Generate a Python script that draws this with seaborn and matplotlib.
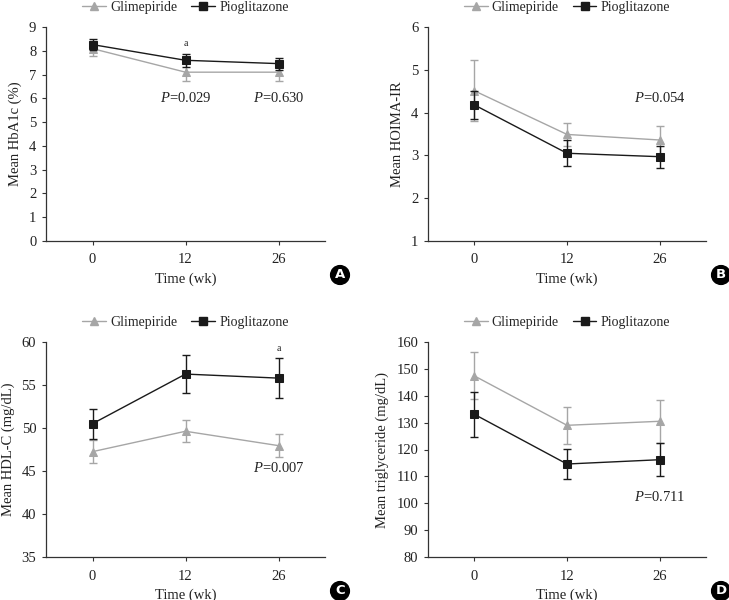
import numpy as np
import pandas as pd
import seaborn as sns
import matplotlib.pyplot as plt
from matplotlib.lines import Line2D

sns.set_theme(style="ticks")
plt.rcParams['font.family'] = ['Liberation Serif', 'DejaVu Serif']
plt.rcParams['mathtext.fontset'] = 'custom'
plt.rcParams['mathtext.rm'] = 'Liberation Serif'
plt.rcParams['mathtext.it'] = 'Liberation Serif:italic'

weeks = ['0', '12', '26']
groups = ['Glimepiride', 'Pioglitazone']

hba1c_glim = [8.09, 7.10, 7.10]
hba1c_glim_err = [0.32, 0.37, 0.35]
hba1c_pio = [8.26, 7.60, 7.46]
hba1c_pio_err = [0.24, 0.28, 0.25]

homa_glim = [4.51, 3.49, 3.36]
homa_glim_err = [0.71, 0.27, 0.32]
homa_pio = [4.18, 3.05, 2.97]
homa_pio_err = [0.33, 0.30, 0.26]

hdl_glim = [47.25, 49.62, 47.95]
hdl_glim_err = [1.30, 1.30, 1.35]
hdl_pio = [50.5, 56.27, 55.8]
hdl_pio_err = [1.75, 2.20, 2.30]

tg_glim = [147.4, 129.0, 130.5]
tg_glim_err = [8.7, 6.9, 7.9]
tg_pio = [133.1, 114.6, 116.2]
tg_pio_err = [8.4, 5.7, 6.2]

GRAY = '#a6a6a6'
BLACK = '#1a1a1a'
palette = {'Glimepiride': GRAY, 'Pioglitazone': BLACK}

fig = plt.figure(figsize=(7.29, 6.0), dpi=100)
W, H = 729, 600

def add_axes(left, top, right, bottom):
    return fig.add_axes([left / W, 1 - bottom / H, (right - left) / W, (bottom - top) / H])

panels = [
    dict(box=(46, 27, 325, 241), glim=hba1c_glim, ge=hba1c_glim_err, pio=hba1c_pio, pe=hba1c_pio_err,
         ylabel='Mean HbA1c (%)', ylim=(0, 9), yticks=np.arange(0, 10, 1), letter='A',
         ptexts=[(1, 6.03, '=0.029'), (2, 6.03, '=0.630')], atexts=[(1, 8.3)]),
    dict(box=(428, 27, 706, 241), glim=homa_glim, ge=homa_glim_err, pio=homa_pio, pe=homa_pio_err,
         ylabel='Mean HOIMA-IR', ylim=(1, 6), yticks=np.arange(1, 7, 1), letter='B',
         ptexts=[(2, 4.35, '=0.054')], atexts=[]),
    dict(box=(46, 342, 325, 557), glim=hdl_glim, ge=hdl_glim_err, pio=hdl_pio, pe=hdl_pio_err,
         ylabel='Mean HDL-C (mg/dL)', ylim=(35, 60), yticks=np.arange(35, 61, 5), letter='C',
         ptexts=[(2, 45.3, '=0.007')], atexts=[(2, 59.3)]),
    dict(box=(428, 342, 706, 557), glim=tg_glim, ge=tg_glim_err, pio=tg_pio, pe=tg_pio_err,
         ylabel='Mean triglyceride (mg/dL)', ylim=(80, 160), yticks=np.arange(80, 161, 10), letter='D',
         ptexts=[(2, 102.2, '=0.711')], atexts=[]),
]

for p in panels:
    ax = add_axes(*p['box'])
    df = pd.DataFrame({
        'week': weeks * 2,
        'value': list(p['glim']) + list(p['pio']),
        'group': ['Glimepiride'] * 3 + ['Pioglitazone'] * 3,
    })
    sns.pointplot(data=df, x='week', y='value', hue='group', order=weeks, hue_order=groups,
                  palette=palette, markers=['^', 's'], linestyles=['-', '-'], errorbar=None,
                  markersize=6, linewidth=1.0, ax=ax, legend=False)
    ax.errorbar(np.arange(3), p['glim'], yerr=p['ge'], fmt='none', ecolor=GRAY,
                elinewidth=1.0, capsize=3, capthick=1.0, zorder=1)
    ax.errorbar(np.arange(3), p['pio'], yerr=p['pe'], fmt='none', ecolor=BLACK,
                elinewidth=1.0, capsize=3, capthick=1.0, zorder=3)
    ax.set_xlim(-0.5, 2.5)
    ax.set_ylim(*p['ylim'])
    ax.set_yticks(p['yticks'])
    ax.set_yticklabels([str(int(t)) for t in p['yticks']])
    sns.despine(ax=ax)
    for s in ['left', 'bottom']:
        ax.spines[s].set_color('#333333')
        ax.spines[s].set_linewidth(0.9)
    ax.tick_params(axis='both', labelsize=10.5, colors='#333333', labelcolor='#222222',
                   length=3, width=0.8)
    ax.tick_params(axis='y', pad=4)
    ax.tick_params(axis='x', pad=6)
    ax.set_xlabel('Time (wk)', fontsize=10.5, color='#222222', labelpad=4)
    ax.set_ylabel(p['ylabel'], fontsize=10.5, color='#222222', labelpad=5)
    for (xi, yi, rest) in p['ptexts']:
        ax.text(xi, yi, r'$P$' + rest, ha='center', va='center', fontsize=10.5, color='#222222')
    for (xi, yi) in p['atexts']:
        ax.text(xi, yi, 'a', ha='center', va='center', fontsize=7, color='#222222')
    handles = [Line2D([], [], color=GRAY, marker='^', markersize=6, lw=1.0),
               Line2D([], [], color=BLACK, marker='s', markersize=6, lw=1.0)]
    ax.legend(handles, groups, loc='center', bbox_to_anchor=(0.5, 1.09), ncol=2,
              frameon=False, fontsize=10, handlelength=1.7, handletextpad=0.3,
              columnspacing=1.0, borderaxespad=0)
    l, t, r, b = p['box']
    fig.text((r + 15) / W, 1 - (b + 34) / H, p['letter'], ha='center', va='center',
             color='white', fontsize=9.5, fontweight='bold', family='DejaVu Sans',
             bbox=dict(boxstyle='circle,pad=0.22', fc='black', ec='black'))

fig.savefig('out.png', dpi=100)
